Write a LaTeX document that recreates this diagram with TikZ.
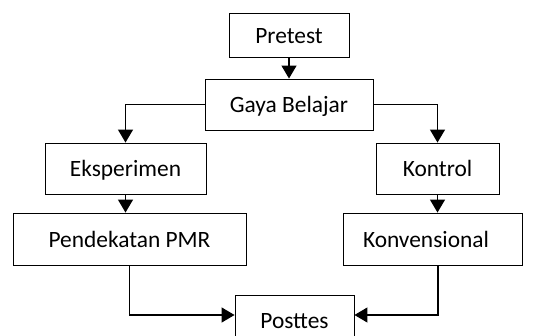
\documentclass[tikz,border=0pt]{standalone}
\usepackage{fontspec}
\setmainfont{Carlito}
\usetikzlibrary{arrows.meta}
\begin{document}
\begin{tikzpicture}[x=1pt,y=-1pt,
  box/.style={draw,line width=0.9pt,rectangle,inner sep=0pt,
    font=\fontsize{23.4}{28}\selectfont,text height=17pt,text depth=0pt},
  arr/.style={line width=1.3pt,-{Triangle[width=15pt,length=13pt]}}]
\clip (0,0) rectangle (540,336);
\fill[white] (0,0) rectangle (540,336);
\node[box,minimum width=120pt,minimum height=44pt] (pre) at (289,35) {Pretest};
\node[box,minimum width=168pt,minimum height=51pt] (gaya) at (289,104.5) {Gaya Belajar};
\node[box,minimum width=161pt,minimum height=51pt] (eks) at (125.5,168.5) {Eksperimen};
\node[box,minimum width=123pt,minimum height=51pt] (kon) at (437.5,168.5) {Kontrol};
\node[box,minimum width=233pt,minimum height=52pt] (pmr) at (129.5,239) {Pendekatan PMR};
\node[box,minimum width=179pt,minimum height=52pt,text width=179pt,align=left] (konv) at (432.5,239) {\hspace*{20pt}Konvensional};
\node[box,minimum width=119pt,minimum height=50pt] (post) at (294.5,320) {Posttes};
\draw[arr] (pre) -- (gaya);
\draw[arr] (gaya.west) -| (eks.north);
\draw[arr] (gaya.east) -| (kon.north);
\draw[arr] (eks.south) -- (eks.south |- pmr.north);
\draw[arr] (kon.south) -- (kon.south |- konv.north);
\draw[arr] (pmr.south) |- ([yshift=5pt]post.west);
\draw[arr] ([xshift=5.5pt]konv.south) |- ([yshift=5pt]post.east);
\end{tikzpicture}
\end{document}
